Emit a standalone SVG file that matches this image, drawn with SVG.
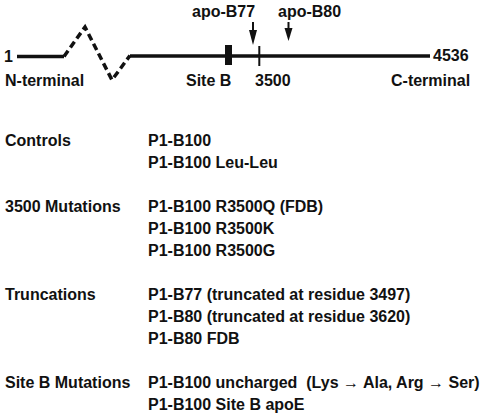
<svg xmlns="http://www.w3.org/2000/svg" width="482" height="416" viewBox="0 0 482 416">
<style>
text{font-family:"Liberation Sans",Arial,Helvetica,sans-serif;font-weight:bold;font-size:16px;fill:#111;white-space:pre}
.ln{stroke:#111;stroke-width:3.5;fill:none}
.dash{stroke:#111;stroke-width:3.5;fill:none;stroke-dasharray:7 4}
.arr{stroke:#111;stroke-width:2;fill:none}
.hd{fill:#111}
</style>
<rect width="482" height="416" fill="#fff"/>
<g id="protein">
<path class="ln" d="M17 56.5H64"/>
<path class="dash" d="M64 56.5L85 27L112 80L130 55.5"/>
<path class="ln" d="M130 56H430"/>
<rect x="225" y="45" width="7" height="20" class="hd"/>
<rect x="258.3" y="46" width="2" height="20" class="hd"/>
<text x="4" y="62">1</text>
<text x="433" y="61">4536</text>
<text x="5" y="86">N-terminal</text>
<text x="186" y="86">Site B</text>
<text x="255" y="86">3500</text>
<text x="391" y="86">C-terminal</text>
</g>
<g id="connectors">
<path class="arr" d="M253 22V32"/>
<path class="hd" d="M249 30H257L253 45Z"/>
<path class="arr" d="M288.5 22V30"/>
<path class="hd" d="M284.5 28H292.5L288.5 41Z"/>
</g>
<g id="labels-top">
<text x="192" y="17">apo-B77</text>
<text x="278" y="17">apo-B80</text>
</g>
<g id="controls">
<text x="5" y="146">Controls</text>
<text x="148" y="146">P1-B100</text>
<text x="148" y="168">P1-B100 Leu-Leu</text>
</g>
<g id="mut3500">
<text x="5" y="212">3500 Mutations</text>
<text x="148" y="212">P1-B100 R3500Q (FDB)</text>
<text x="148" y="234">P1-B100 R3500K</text>
<text x="148" y="256">P1-B100 R3500G</text>
</g>
<g id="truncations">
<text x="5" y="300">Truncations</text>
<text x="148" y="300">P1-B77 (truncated at residue 3497)</text>
<text x="148" y="322">P1-B80 (truncated at residue 3620)</text>
<text x="148" y="344">P1-B80 FDB</text>
</g>
<g id="siteb">
<text x="5" y="388">Site B Mutations</text>
<text x="148" y="388">P1-B100 uncharged  (Lys → Ala, Arg → Ser)</text>
<text x="148" y="410">P1-B100 Site B apoE</text>
</g>
</svg>
